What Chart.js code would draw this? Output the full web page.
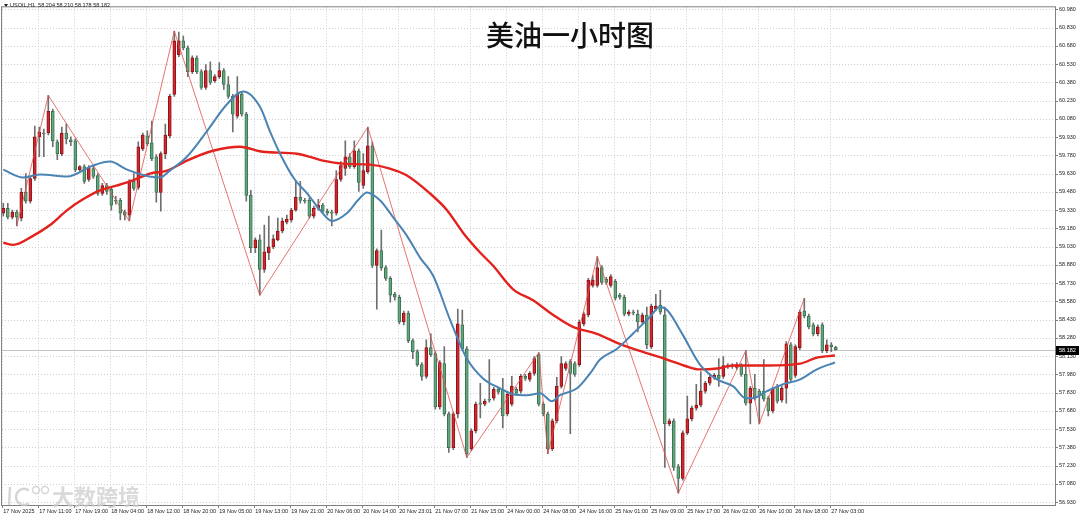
<!DOCTYPE html>
<html>
<head>
<meta charset="utf-8">
<script src="https://cdn.jsdelivr.net/npm/chart.js@4.4.1/dist/chart.umd.min.js"></script>
<style>
  html, body { margin: 0; padding: 0; background: #fff; }
  #wrap { width: 1080px; height: 520px; }
</style>
</head>
<body>
<div id="wrap"><canvas id="chart" width="1080" height="520"></canvas></div>
<script>
// USOIL H1 candles, 17 Nov 2025 -> 27 Nov 04:00 (one entry per bar)
const opens = [
  59.305, 59.345, 59.272, 59.313, 59.264, 59.475, 59.402, 59.589, 59.931, 59.963,
  59.963, 60.142, 59.890, 59.793, 59.963, 59.907, 59.898, 59.662, 59.687, 59.581,
  59.671, 59.614, 59.467, 59.532, 59.500, 59.410, 59.410, 59.313, 59.288, 59.565,
  59.516, 59.833, 59.939, 59.882, 59.768, 59.475, 59.793, 59.939, 60.281, 60.606,
  60.720, 60.663, 60.468, 60.581, 60.468, 60.337, 60.476, 60.394, 60.427, 60.476,
  60.362, 60.264, 60.102, 60.281, 60.118, 59.451, 59.020, 59.085, 58.841, 58.979,
  59.028, 59.085, 59.158, 59.231, 59.248, 59.329, 59.435, 59.410, 59.410, 59.280,
  59.345, 59.370, 59.321, 59.313, 59.305, 59.581, 59.671, 59.768, 59.687, 59.817,
  59.532, 59.646, 59.858, 58.874, 58.996, 58.857, 58.768, 58.638, 58.613, 58.410,
  58.483, 58.256, 58.166, 58.060, 57.963, 58.199, 58.150, 57.711, 58.068, 57.654,
  57.377, 57.654, 58.386, 58.190, 57.369, 57.515, 57.743, 57.735, 57.776, 57.784,
  57.857, 57.849, 57.654, 57.735, 57.857, 57.841, 57.963, 57.938, 57.987, 58.142,
  57.735, 57.654, 57.369, 57.597, 57.881, 58.028, 58.085, 58.068, 58.060, 58.394,
  58.467, 58.711, 58.711, 58.857, 58.760, 58.711, 58.744, 58.630, 58.613, 58.475,
  58.491, 58.475, 58.410, 58.467, 58.207, 58.516, 58.548, 58.467, 57.572, 57.597,
  57.222, 57.125, 57.499, 57.613, 57.702, 57.727, 57.841, 57.906, 57.955, 57.971,
  57.963, 58.052, 58.052, 58.036, 58.052, 57.979, 57.743, 57.865, 57.841, 57.841,
  57.784, 57.678, 57.881, 57.768, 57.865, 58.223, 57.971, 58.199, 58.500, 58.459,
  58.386, 58.313, 58.386, 58.174, 58.223, 58.204
];
const highs = [
  59.386, 59.386, 59.329, 59.329, 59.508, 59.630, 59.606, 60.020, 60.012, 59.996,
  60.272, 60.159, 59.907, 60.012, 60.037, 59.931, 59.915, 59.695, 59.703, 59.695,
  59.695, 59.630, 59.549, 59.549, 59.508, 59.443, 59.427, 59.329, 59.581, 59.630,
  59.890, 59.963, 59.980, 60.061, 59.785, 59.809, 60.037, 60.281, 60.801, 60.793,
  60.760, 60.679, 60.598, 60.598, 60.484, 60.525, 60.549, 60.443, 60.541, 60.492,
  60.427, 60.281, 60.427, 60.297, 60.134, 59.492, 59.101, 59.126, 59.207, 59.280,
  59.126, 59.264, 59.264, 59.288, 59.345, 59.565, 59.565, 59.427, 59.427, 59.362,
  59.418, 59.386, 59.337, 59.329, 59.654, 59.728, 59.898, 59.793, 59.898, 59.833,
  59.793, 60.012, 59.890, 59.012, 59.166, 58.874, 58.784, 58.654, 58.630, 58.500,
  58.500, 58.272, 58.182, 58.077, 58.264, 58.313, 58.166, 58.093, 58.207, 57.670,
  57.670, 58.516, 58.508, 58.207, 57.532, 57.751, 57.906, 57.776, 58.101, 57.873,
  57.873, 57.946, 57.833, 57.963, 57.873, 57.979, 57.979, 58.003, 58.126, 58.158,
  57.751, 57.670, 57.613, 57.955, 58.126, 58.085, 58.101, 58.085, 58.426, 58.491,
  58.768, 58.792, 58.947, 58.874, 58.776, 58.800, 58.760, 58.646, 58.630, 58.508,
  58.508, 58.508, 58.483, 58.532, 58.556, 58.638, 58.670, 58.532, 57.613, 57.613,
  57.239, 57.515, 57.800, 57.719, 57.898, 58.003, 57.922, 57.971, 57.987, 58.109,
  58.126, 58.068, 58.068, 58.077, 58.068, 58.174, 57.881, 57.979, 57.857, 58.101,
  57.800, 57.873, 57.898, 57.881, 58.248, 58.240, 58.223, 58.508, 58.605, 58.475,
  58.402, 58.386, 58.402, 58.264, 58.240, 58.210
];
const lows = [
  59.280, 59.256, 59.256, 59.199, 59.240, 59.386, 59.386, 59.573, 59.768, 59.768,
  59.947, 59.850, 59.744, 59.776, 59.874, 59.858, 59.646, 59.646, 59.549, 59.565,
  59.589, 59.451, 59.451, 59.459, 59.329, 59.378, 59.248, 59.248, 59.240, 59.492,
  59.500, 59.817, 59.858, 59.736, 59.394, 59.321, 59.752, 59.923, 60.264, 60.590,
  60.647, 60.427, 60.451, 60.451, 60.321, 60.321, 60.362, 60.378, 60.411, 60.321,
  60.248, 59.972, 60.085, 60.102, 59.402, 58.979, 58.979, 58.630, 58.817, 58.922,
  59.012, 59.077, 59.142, 59.215, 59.231, 59.321, 59.386, 59.386, 59.264, 59.264,
  59.329, 59.305, 59.288, 59.199, 59.288, 59.565, 59.614, 59.671, 59.671, 59.484,
  59.508, 59.630, 58.857, 58.516, 58.833, 58.752, 58.573, 58.589, 58.394, 58.386,
  58.240, 58.109, 58.044, 57.930, 57.946, 58.126, 57.694, 57.694, 57.637, 57.337,
  57.361, 57.621, 58.174, 57.296, 57.353, 57.499, 57.621, 57.719, 57.751, 57.768,
  57.816, 57.540, 57.637, 57.719, 57.808, 57.824, 57.930, 57.922, 57.971, 57.719,
  57.637, 57.328, 57.353, 57.580, 57.865, 58.012, 57.491, 57.963, 58.044, 58.378,
  58.451, 58.695, 58.695, 58.719, 58.719, 58.695, 58.589, 58.597, 58.459, 58.459,
  58.467, 58.329, 58.394, 58.190, 58.190, 58.500, 58.475, 57.214, 57.556, 57.190,
  57.003, 57.109, 57.483, 57.597, 57.686, 57.711, 57.824, 57.890, 57.938, 57.881,
  57.946, 58.028, 58.028, 58.020, 57.963, 57.727, 57.572, 57.768, 57.572, 57.759,
  57.637, 57.662, 57.743, 57.751, 57.743, 57.922, 57.955, 58.182, 58.443, 58.353,
  58.296, 58.296, 58.158, 58.158, 58.166, 58.178
];
const closes = [
  59.345, 59.272, 59.313, 59.272, 59.475, 59.402, 59.589, 59.931, 59.972, 59.955,
  60.142, 59.898, 59.793, 59.963, 59.915, 59.890, 59.662, 59.687, 59.565, 59.679,
  59.606, 59.467, 59.532, 59.484, 59.370, 59.402, 59.305, 59.288, 59.565, 59.508,
  59.850, 59.947, 59.874, 59.752, 59.475, 59.793, 59.947, 60.264, 60.720, 60.720,
  60.663, 60.468, 60.581, 60.468, 60.337, 60.476, 60.378, 60.427, 60.476, 60.362,
  60.264, 60.118, 60.281, 60.118, 59.451, 59.020, 59.085, 58.841, 58.987, 59.028,
  59.093, 59.158, 59.240, 59.256, 59.329, 59.435, 59.410, 59.402, 59.280, 59.345,
  59.370, 59.321, 59.305, 59.305, 59.581, 59.695, 59.768, 59.687, 59.817, 59.557,
  59.654, 59.858, 58.874, 58.996, 58.857, 58.768, 58.630, 58.613, 58.410, 58.483,
  58.256, 58.166, 58.060, 57.963, 58.199, 58.142, 57.711, 58.077, 57.654, 57.377,
  57.654, 58.394, 58.190, 57.328, 57.515, 57.735, 57.735, 57.759, 57.768, 57.857,
  57.833, 57.637, 57.816, 57.881, 57.824, 57.963, 57.946, 57.987, 58.109, 57.735,
  57.654, 57.369, 57.597, 57.881, 58.068, 58.068, 57.987, 57.979, 58.410, 58.475,
  58.752, 58.752, 58.857, 58.735, 58.735, 58.784, 58.605, 58.613, 58.475, 58.491,
  58.483, 58.410, 58.467, 58.223, 58.540, 58.540, 58.491, 57.572, 57.597, 57.214,
  57.125, 57.499, 57.613, 57.702, 57.727, 57.841, 57.906, 57.955, 57.971, 57.946,
  58.052, 58.044, 58.044, 58.060, 57.979, 57.743, 57.865, 57.784, 57.808, 57.776,
  57.678, 57.857, 57.759, 57.865, 58.231, 57.938, 58.207, 58.491, 58.459, 58.369,
  58.313, 58.369, 58.174, 58.223, 58.207, 58.182
];

// moving averages (bar position, price)
const fastMaBars = [0, 4.4, 8.2, 14.2, 19.9, 23.7, 27.5, 31.5, 34.8, 37, 40.8, 45.3, 49.7, 53.3, 57.1, 59.3,
  61.5, 64.6, 67.5, 70.4, 73, 76.4, 78.8, 80.8, 83.7, 86.6, 89.7, 92.6, 95.5, 99.3, 103, 106.6, 110.4,
  113.3, 116.4, 119.3, 121.9, 123.7, 127.5, 130.4, 132.6, 136.4, 139.9, 143.7, 145.9, 147.5, 151,
  154.8, 158.6, 162.2, 165, 166.6, 169.7, 173.3, 177.1, 180.8, 184.8];
const fastMaValues = [59.662, 59.597, 59.622, 59.606, 59.695, 59.728, 59.662, 59.614, 59.597, 59.654, 59.768,
  59.980, 60.199, 60.305, 60.175, 59.972, 59.793, 59.589, 59.467, 59.329, 59.240, 59.305, 59.410, 59.475,
  59.410, 59.272, 59.118, 58.939, 58.792, 58.426, 58.109, 57.946, 57.865, 57.816, 57.808, 57.824, 57.759,
  57.808, 57.865, 57.987, 58.101, 58.190, 58.313, 58.451, 58.532, 58.508, 58.304, 58.060, 57.938, 57.881,
  57.784, 57.784, 57.841, 57.898, 57.938, 58.020, 58.077];
const slowMaBars = [0, 2.2, 6.6, 10.4, 14.2, 17.7, 21.5, 25.3, 28.8, 32.6, 36.4, 40.8, 46.6, 52.6, 57.7, 65.3,
  71, 75.5, 81.5, 85.9, 89.7, 94.8, 98.6, 102.2, 106, 108.8, 113.3, 117.7, 122.2, 126.6, 131.9, 136.4,
  139.9, 147.5, 151.9, 154.8, 158.6, 162.2, 169.7, 177.1, 180.8, 184.8];
const slowMaValues = [59.061, 59.044, 59.118, 59.207, 59.329, 59.418, 59.492, 59.532, 59.573, 59.630, 59.654,
  59.736, 59.817, 59.850, 59.809, 59.793, 59.736, 59.711, 59.703, 59.671, 59.614, 59.467, 59.329, 59.142,
  58.979, 58.874, 58.678, 58.589, 58.467, 58.369, 58.313, 58.239, 58.190, 58.101, 58.044, 58.020, 58.028,
  58.052, 58.052, 58.068, 58.117, 58.134];

// zigzag swing points
const zigzagBars = [3, 10, 28, 38, 57, 81, 103, 119, 121, 132, 150, 165, 168, 178];
const zigzagValues = [59.199, 60.272, 59.240, 60.801, 58.630, 60.012, 57.296, 58.158, 57.328, 58.947,
  57.003, 58.174, 57.572, 58.605];

// axis labels
const timeTickBars = [0, 8, 16, 24, 32, 40, 48, 56, 64, 72, 80, 88, 96, 104, 112, 120, 128, 136, 144, 152,
  160, 168, 176, 184];
const timeLabels = ["17 Nov 2025", "17 Nov 11:00", "17 Nov 19:00", "18 Nov 04:00", "18 Nov 12:00",
  "18 Nov 20:00", "19 Nov 05:00", "19 Nov 13:00", "19 Nov 21:00", "20 Nov 06:00", "20 Nov 14:00",
  "20 Nov 23:01", "21 Nov 07:00", "21 Nov 15:00", "24 Nov 00:00", "24 Nov 08:00", "24 Nov 16:00",
  "25 Nov 01:00", "25 Nov 09:00", "25 Nov 17:00", "26 Nov 02:00", "26 Nov 10:00", "26 Nov 18:00",
  "27 Nov 03:00"];
const priceTicks = [56.93, 57.08, 57.23, 57.38, 57.53, 57.68, 57.83, 57.98, 58.13, 58.28, 58.43, 58.58,
  58.73, 58.88, 59.03, 59.18, 59.33, 59.48, 59.63, 59.78, 59.93, 60.08, 60.23, 60.38, 60.53, 60.68,
  60.83, 60.98];

const symbolName = "USOIL,H1";
const chartTitle = "美油一小时图";
const watermark = "大数跨境";

const UP_FILL = "#cc2a30", UP_LINE = "#951217";
const DN_FILL = "#66a67f", DN_LINE = "#3a7553";
const TICK_FONT = { family: "Liberation Sans", size: 5.5 };

const isUp = opens.map((o, i) => closes[i] >= o);
const wickData = opens.map((o, i) => ({ x: i, y: [lows[i], highs[i]] }));
const bodyData = opens.map((o, i) => ({ x: i, y: [o, closes[i]] }));
const toPoints = (xs, ys) => xs.map((x, k) => ({ x: x, y: ys[k] }));

const decor = {
  id: "decor",
  beforeDraw(chart) {
    const ctx = chart.ctx;
    ctx.save();
    ctx.fillStyle = "#fff";
    ctx.fillRect(0, 0, chart.width, chart.height);
    ctx.restore();
  },
  beforeDatasetsDraw(chart) {
    const { ctx, chartArea: a, scales } = chart;
    const x = scales.x, y = scales.y;
    ctx.save();
    ctx.strokeStyle = "#cfcfcf";
    ctx.lineWidth = 1;
    ctx.setLineDash([1, 2]);
    priceTicks.forEach(function (v) {
      const py = Math.round(y.getPixelForValue(v)) + 0.5;
      ctx.beginPath(); ctx.moveTo(a.left, py); ctx.lineTo(a.right, py); ctx.stroke();
    });
    timeTickBars.forEach(function (v) {
      const px = Math.round(x.getPixelForValue(v)) - 0.5;
      ctx.beginPath(); ctx.moveTo(px, a.top); ctx.lineTo(px, a.bottom); ctx.stroke();
    });
    ctx.setLineDash([]);
    const lp = Math.round(y.getPixelForValue(closes[closes.length - 1])) + 0.5;
    ctx.strokeStyle = "#c4c4c4";
    ctx.beginPath(); ctx.moveTo(a.left, lp); ctx.lineTo(a.right, lp); ctx.stroke();
    ctx.restore();
  },
  afterDraw(chart) {
    const { ctx, chartArea: a, scales } = chart;
    const x = scales.x, y = scales.y;
    ctx.save();
    // frame
    ctx.strokeStyle = "#808080";
    ctx.lineWidth = 1;
    ctx.strokeRect(a.left - 0.5, a.top - 0.5, a.right - a.left + 1, a.bottom - a.top + 1);
    // tick marks
    ctx.beginPath();
    priceTicks.forEach(function (v) {
      const py = Math.round(y.getPixelForValue(v)) + 0.5;
      ctx.moveTo(a.right, py); ctx.lineTo(a.right + 3, py);
    });
    timeTickBars.forEach(function (v) {
      const px = Math.round(x.getPixelForValue(v)) - 0.5;
      ctx.moveTo(px, a.bottom); ctx.lineTo(px, a.bottom + 3);
    });
    ctx.stroke();
    // last price tag
    const last = closes[closes.length - 1];
    const lp = Math.round(y.getPixelForValue(last));
    ctx.fillStyle = "#000";
    ctx.fillRect(a.right + 1, lp - 4, 23, 9);
    ctx.fillStyle = "#fff";
    ctx.font = "5.5px 'Liberation Sans'";
    ctx.textBaseline = "middle";
    ctx.textAlign = "left";
    ctx.fillText(last.toFixed(3), a.right + 4, lp + 0.5);
    // header line
    ctx.fillStyle = "#222";
    ctx.beginPath();
    ctx.moveTo(4, 4); ctx.lineTo(8, 4); ctx.lineTo(6, 7); ctx.closePath(); ctx.fill();
    const n = opens.length - 1;
    ctx.fillText(symbolName + "  " + [opens[n], highs[n], lows[n], closes[n]].map(v => v.toFixed(3)).join(" "), 10, 5.5);
    // title
    ctx.fillStyle = "#111";
    ctx.font = "500 28px 'Noto Sans CJK SC'";
    ctx.textAlign = "center";
    ctx.fillText(chartTitle, 570, 35);
    // watermark
    ctx.globalAlpha = 0.75;
    ctx.strokeStyle = "#c8c8c8";
    ctx.lineWidth = 2.5;
    ctx.beginPath(); ctx.moveTo(10, 487); ctx.lineTo(9, 505); ctx.stroke();
    ctx.beginPath(); ctx.arc(24, 497, 8, Math.PI * 0.3, Math.PI * 1.7); ctx.stroke();
    ctx.lineWidth = 1.5;
    ctx.beginPath(); ctx.arc(36, 490, 3.5, 0, Math.PI * 2); ctx.stroke();
    ctx.beginPath(); ctx.arc(45, 490, 3.5, 0, Math.PI * 2); ctx.stroke();
    ctx.font = "bold 22px 'Noto Sans CJK SC'";
    ctx.textAlign = "left";
    ctx.fillStyle = "#cdcdcd";
    ctx.fillText(watermark, 52, 497);
    ctx.restore();
  }
};

Chart.defaults.font.family = "Liberation Sans";

new Chart(document.getElementById("chart").getContext("2d"), {
  type: "bar",
  data: {
    datasets: [
      {
        type: "bar",
        data: wickData,
        backgroundColor: "#6f6f6f",
        borderWidth: 0,
        barThickness: 1,
        grouped: false,
        order: 5
      },
      {
        type: "bar",
        data: bodyData,
        backgroundColor: isUp.map(u => (u ? UP_FILL : DN_FILL)),
        borderColor: isUp.map(u => (u ? UP_LINE : DN_LINE)),
        borderWidth: 1,
        borderSkipped: false,
        barThickness: 3,
        minBarLength: 1,
        grouped: false,
        order: 4
      },
      {
        type: "line",
        data: toPoints(zigzagBars, zigzagValues),
        borderColor: "#e0504a",
        borderWidth: 0.8,
        pointRadius: 0,
        tension: 0,
        order: 3
      },
      {
        type: "line",
        data: toPoints(slowMaBars, slowMaValues),
        borderColor: "#e3221d",
        borderWidth: 2.4,
        pointRadius: 0,
        cubicInterpolationMode: "monotone",
        order: 2
      },
      {
        type: "line",
        data: toPoints(fastMaBars, fastMaValues),
        borderColor: "#4a84b5",
        borderWidth: 2,
        pointRadius: 0,
        cubicInterpolationMode: "monotone",
        order: 1
      }
    ]
  },
  options: {
    responsive: false,
    animation: false,
    devicePixelRatio: 1,
    layout: { padding: { left: 2, top: 2, right: 0, bottom: 0 } },
    plugins: { legend: { display: false }, tooltip: { enabled: false }, title: { display: false } },
    scales: {
      x: {
        type: "linear",
        min: -0.29,
        max: 233.71,
        offset: false,
        grid: { display: false, drawTicks: false, tickLength: 0 },
        border: { display: false },
        afterBuildTicks: function (axis) {
          axis.ticks = timeTickBars.map(v => ({ value: v }));
        },
        afterFit: function (axis) { axis.height = 15; },
        ticks: {
          autoSkip: false,
          maxRotation: 0,
          minRotation: 0,
          align: "start",
          padding: 3,
          color: "#222",
          font: TICK_FONT,
          callback: function (v) {
            const k = timeTickBars.indexOf(v);
            return k >= 0 ? timeLabels[k] : "";
          }
        }
      },
      y: {
        type: "linear",
        position: "right",
        min: 56.9056,
        max: 60.9963,
        grid: { display: false, drawTicks: false, tickLength: 0 },
        border: { display: false },
        afterBuildTicks: function (axis) {
          axis.ticks = priceTicks.map(v => ({ value: v }));
        },
        afterFit: function (axis) { axis.width = 25; },
        ticks: {
          padding: 4,
          color: "#222",
          font: TICK_FONT,
          callback: function (v) { return Number(v).toFixed(3); }
        }
      }
    }
  },
  plugins: [decor]
});
</script>
</body>
</html>
